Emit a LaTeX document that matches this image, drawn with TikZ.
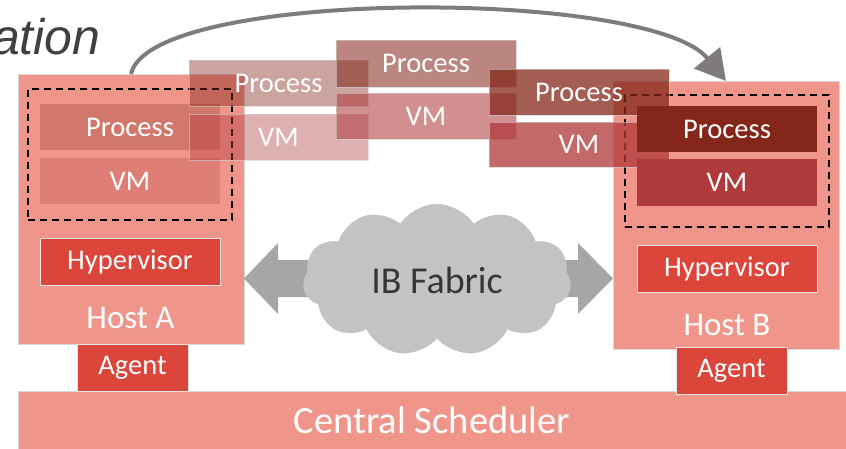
\documentclass[tikz,border=0pt]{standalone}
\usepackage{fontspec}
\setmainfont{Carlito}
\newfontfamily\titlefont{Liberation Sans}
\usetikzlibrary{shapes.symbols,arrows.meta}
\definecolor{hostc}{HTML}{F0958A}
\definecolor{redc}{HTML}{DC4539}
\definecolor{procc}{HTML}{84271A}
\definecolor{vmc}{HTML}{B03A3B}
\definecolor{cloudc}{HTML}{C3C3C3}
\definecolor{darrowc}{HTML}{A6A6A6}
\definecolor{curvec}{HTML}{7F7B7A}
\definecolor{titlec}{HTML}{404040}
\definecolor{fabtext}{HTML}{363636}
\begin{document}
\begin{tikzpicture}[x=1pt,y=-1pt,
  blk/.style={inner sep=0pt, outer sep=0pt, anchor=center},
  hostbox/.style={blk, fill=hostc, draw=black!16, line width=0.6pt},
  boxtext/.style={text=white, text opacity=1, font=\fontsize{28.5}{30}\selectfont},
  redbox/.style={blk, boxtext, fill=redc, draw=black!10, line width=0.5pt, minimum height=47pt},
  layer/.style={blk, boxtext, minimum width=180pt, minimum height=46pt},
  ghost/.style={layer, draw=black!20, draw opacity=0.6, line width=0.5pt},
  dashbox/.style={blk, draw=black, line width=1.8pt, dash pattern=on 7pt off 5pt, minimum width=204pt, minimum height=131pt},
  hostlabel/.style={text=white, font=\fontsize{33}{35}\selectfont, inner sep=0pt},
  curvearrow/.style={draw=curvec, line width=4pt, -{Triangle[length=30pt,width=33pt]}},
]
\useasboundingbox (0,0) rectangle (846,449);
\clip (0,0) rectangle (846,449);

% title fragment
\node[anchor=base west, inner sep=0pt, text=titlec, font=\titlefont\itshape\fontsize{50}{52}\selectfont] (title) at (-8,55) {ation};

% central scheduler
\node[hostbox, minimum width=828pt, minimum height=58pt, text=white, font=\fontsize{38.5}{40}\selectfont] (cs) at (432,420) {Central Scheduler};

% hosts
\node[hostbox, minimum width=226pt, minimum height=270pt] (hA) at (131,209) {};
\node[hostbox, minimum width=226pt, minimum height=268pt] (hB) at (726,215) {};
\node[hostlabel] (hAl) at (130.5,318) {Host A};
\node[hostlabel] (hBl) at (727,325) {Host B};

% agents
\node[redbox, minimum width=111pt] (agA) at (132.5,367.5) {Agent};
\node[redbox, minimum width=111pt] (agB) at (731.5,371) {Agent};

% hypervisors
\node[redbox, minimum width=180pt] (hvA) at (130,261.5) {Hypervisor};
\node[redbox, minimum width=180pt] (hvB) at (727,269) {Hypervisor};

% host A content
\node[layer, fill=procc, fill opacity=0.27] (pA) at (130,127.5) {Process};
\node[layer, fill=vmc, fill opacity=0.25] (vA) at (130,181.5) {VM};
\node[dashbox] (dA) at (130,154.5) {};

% host B dashed
\node[dashbox, minimum height=132pt] (dB) at (727,161) {};

% double arrow behind cloud
\coordinate (la) at (hA.east |- 0,278.5);
\fill[darrowc] (la) -- ++(34,-35.5) -- ++(0,17) -- ++(300,0) -- ++(0,-17) -- ++(35,35.5)
  -- ++(-35,35.5) -- ++(0,-17) -- ++(-300,0) -- ++(0,17) -- cycle;

% cloud
\node[cloud, cloud puffs=11, cloud puff arc=115, aspect=1.75, fill=cloudc, draw=black!22, line width=0.4pt,
  minimum width=268pt, minimum height=152pt, inner sep=0pt, text=fabtext, font=\fontsize{38}{40}\selectfont] (ib) at (437,280) {IB Fabric};

% ghost copies
\node[ghost, fill=procc, fill opacity=0.42, minimum width=179pt] (g1p) at (278.5,83) {Process};
\node[ghost, fill=vmc, fill opacity=0.40, minimum width=179pt] (g1v) at (278.5,137) {VM};
\node[ghost, fill=procc, fill opacity=0.56, minimum height=47pt] (g2p) at (426,63.5) {Process};
\node[ghost, fill=vmc, fill opacity=0.57] (g2v) at (426,116) {VM};
\node[ghost, fill=procc, fill opacity=0.75] (g3p) at (579,92) {Process};
\node[ghost, fill=vmc, fill opacity=0.76, minimum height=45pt] (g3v) at (579,144.5) {VM};

% host B content
\node[layer, fill=procc] (pB) at (727,129) {Process};
\node[layer, fill=vmc, minimum height=47pt] (vB) at (727,182.5) {VM};

% migration arrow
\draw[curvearrow] (hA.north) .. controls (150,-12) and (650,-12) .. (hB.north);
\end{tikzpicture}
\end{document}
